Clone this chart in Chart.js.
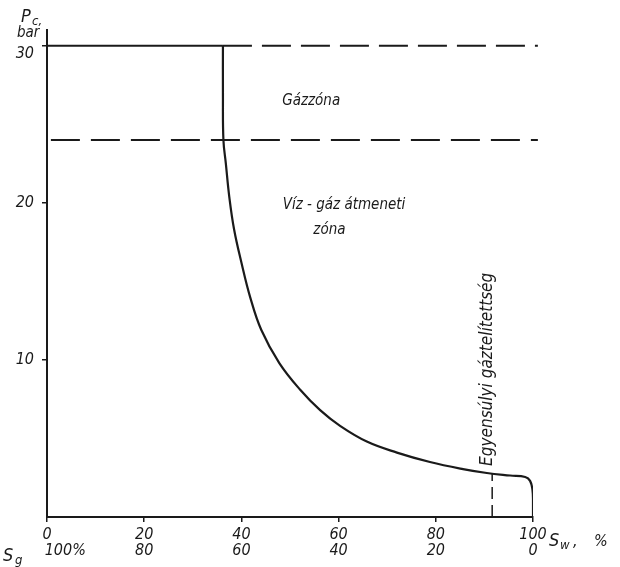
<!DOCTYPE html>
<html>
<head>
<meta charset="utf-8">
<script src="https://cdn.jsdelivr.net/npm/chart.js@4"></script>
<style>
  body { margin: 0; background: #fff; }
</style>
</head>
<body>
<canvas id="pcChart" width="620" height="567"></canvas>
<script>
// Sw % (water saturation) vs. capillary pressure Pc, bar
const swCurve = [36.2, 36.2, 36.3, 36.8, 37.5, 38.5, 40.0, 41.8, 44.1, 47.8, 52.1, 56.2, 60.3, 65.8, 72.0, 78.8, 85.6, 90.5, 95.3, 98.4, 99.4, 99.9, 100, 100];
const pcCurve = [30, 27, 24, 22.5, 20.4, 18.3, 16.2, 14.0, 11.9, 9.8, 8.1, 6.8, 5.8, 4.8, 4.1, 3.5, 3.05, 2.8, 2.64, 2.55, 2.3, 1.7, 1.1, 0];

const gasZoneTop = 30;      // felső határ
const transitionTop = 24;   // gázzóna / átmeneti zóna határa
const swCurveTop = 36.2;
const swEquilibrium = 91.6; // egyensúlyi gáztelítettség
const pcEquilibrium = 2.8;

const xTicks = [0, 20, 40, 60, 80, 100];
const sgLabels = ["        100%", "80", "60", "40", "20", "0"];
const yTicks = [10, 20, 30];

const INK = "#1a1a1a";
const FONT = "'DejaVu Sans Condensed', 'DejaVu Sans', sans-serif";

function pts(xs, ys) {
    return xs.map((x, i) => ({ x: x, y: ys[i] }));
}

const annotations = {
    id: "annotations",
    afterDatasetsDraw(chart) {
        const ctx = chart.ctx;
        const x = chart.scales.x;
        const y = chart.scales.y;
        ctx.save();
        ctx.fillStyle = INK;
        ctx.textBaseline = "alphabetic";
        ctx.textAlign = "left";

        ctx.font = "italic 15px " + FONT;
        ctx.fillText("Gázzóna", x.getPixelForValue(48.4), y.getPixelForValue(26.2), 64);
        ctx.fillText("Víz - gáz átmeneti", x.getPixelForValue(48.5), y.getPixelForValue(19.6), 124);
        ctx.fillText("zóna", x.getPixelForValue(54.8), y.getPixelForValue(18.0), 33);

        // vertical label along the equilibrium line
        ctx.save();
        ctx.translate(x.getPixelForValue(90.6), y.getPixelForValue(9.4));
        ctx.rotate(-Math.PI / 2);
        ctx.textAlign = "center";
        ctx.textBaseline = "middle";
        ctx.font = "italic 17px " + FONT;
        ctx.fillText("Egyensúlyi gáztelítettség", 0, 0, 200);
        ctx.restore();

        // axis titles
        ctx.font = "italic 18px " + FONT;
        ctx.fillText("P", 21, 22);
        ctx.font = "italic 13px " + FONT;
        ctx.fillText("c,", 32, 25);
        ctx.font = "italic 15px " + FONT;
        ctx.fillText("bar", 17, 37, 25);

        ctx.font = "italic 18px " + FONT;
        ctx.fillText("S", 3, 561);
        ctx.font = "italic 13px " + FONT;
        ctx.fillText("g", 15, 564);

        ctx.font = "italic 18px " + FONT;
        ctx.fillText("S", 549, 546);
        ctx.font = "italic 13px " + FONT;
        ctx.fillText("w", 560, 549);
        ctx.font = "italic 16px " + FONT;
        ctx.fillText(",", 573, 546);
        ctx.fillText("%", 594, 546);
        ctx.restore();
    }
};

const ctx = document.getElementById("pcChart").getContext("2d");
new Chart(ctx, {
    type: "line",
    data: {
        datasets: [
            {
                label: "Pc(Sw)",
                data: pts(swCurve, pcCurve),
                borderColor: INK,
                borderWidth: 2.2,
                pointRadius: 0,
                tension: 0.4
            },
            {
                label: "Pc = 30 (solid)",
                data: pts([0, swCurveTop], [gasZoneTop, gasZoneTop]),
                borderColor: INK,
                borderWidth: 2,
                pointRadius: 0
            },
            {
                label: "Pc = 30 (dashed)",
                data: pts([swCurveTop, 101], [gasZoneTop, gasZoneTop]),
                borderColor: INK,
                borderWidth: 2,
                borderDash: [29, 10],
                pointRadius: 0,
                clip: false
            },
            {
                label: "Pc = 24",
                data: pts([0.8, 101], [transitionTop, transitionTop]),
                borderColor: INK,
                borderWidth: 2,
                borderDash: [29, 11],
                pointRadius: 0,
                clip: false
            },
            {
                label: "Egyensúlyi gáztelítettség",
                data: pts([swEquilibrium, swEquilibrium], [0, pcEquilibrium]),
                borderColor: INK,
                borderWidth: 1.5,
                borderDash: [12, 6],
                pointRadius: 0
            }
        ]
    },
    options: {
        responsive: false,
        animation: false,
        layout: { padding: { top: 30, right: 87, left: 0, bottom: 0 } },
        plugins: {
            legend: { display: false },
            tooltip: { enabled: false }
        },
        scales: {
            x: {
                type: "linear",
                min: 0,
                max: 100,
                afterFit: (scale) => { scale.height = 50; },
                afterBuildTicks: (scale) => { scale.ticks = xTicks.map(v => ({ value: v })); },
                border: { display: true, color: INK, width: 2 },
                grid: { drawOnChartArea: false, drawTicks: true, tickLength: 5, color: INK, lineWidth: 1.5 },
                ticks: {
                    maxRotation: 0,
                    autoSkip: false,
                    padding: 5,
                    color: INK,
                    font: { family: FONT, size: 16, style: "italic", lineHeight: 1.0 },
                    callback: (value) => {
                        const i = xTicks.indexOf(value);
                        return [String(value), sgLabels[i]];
                    }
                }
            },
            y: {
                type: "linear",
                min: 0,
                max: 31,
                afterFit: (scale) => { scale.width = 47; },
                afterBuildTicks: (scale) => { scale.ticks = yTicks.map(v => ({ value: v })); },
                border: { display: true, color: INK, width: 2 },
                grid: { drawOnChartArea: false, drawTicks: true, tickLength: 5, color: INK, lineWidth: 1.5 },
                ticks: {
                    padding: 8,
                    color: INK,
                    font: { family: FONT, size: 16, style: "italic", lineHeight: 1.0 },
                    // the top label sits just below its tick, under the "bar" unit
                    callback: (value) => value === 30 ? ["", "30"] : String(value)
                }
            }
        }
    },
    plugins: [annotations]
});
</script>
</body>
</html>
